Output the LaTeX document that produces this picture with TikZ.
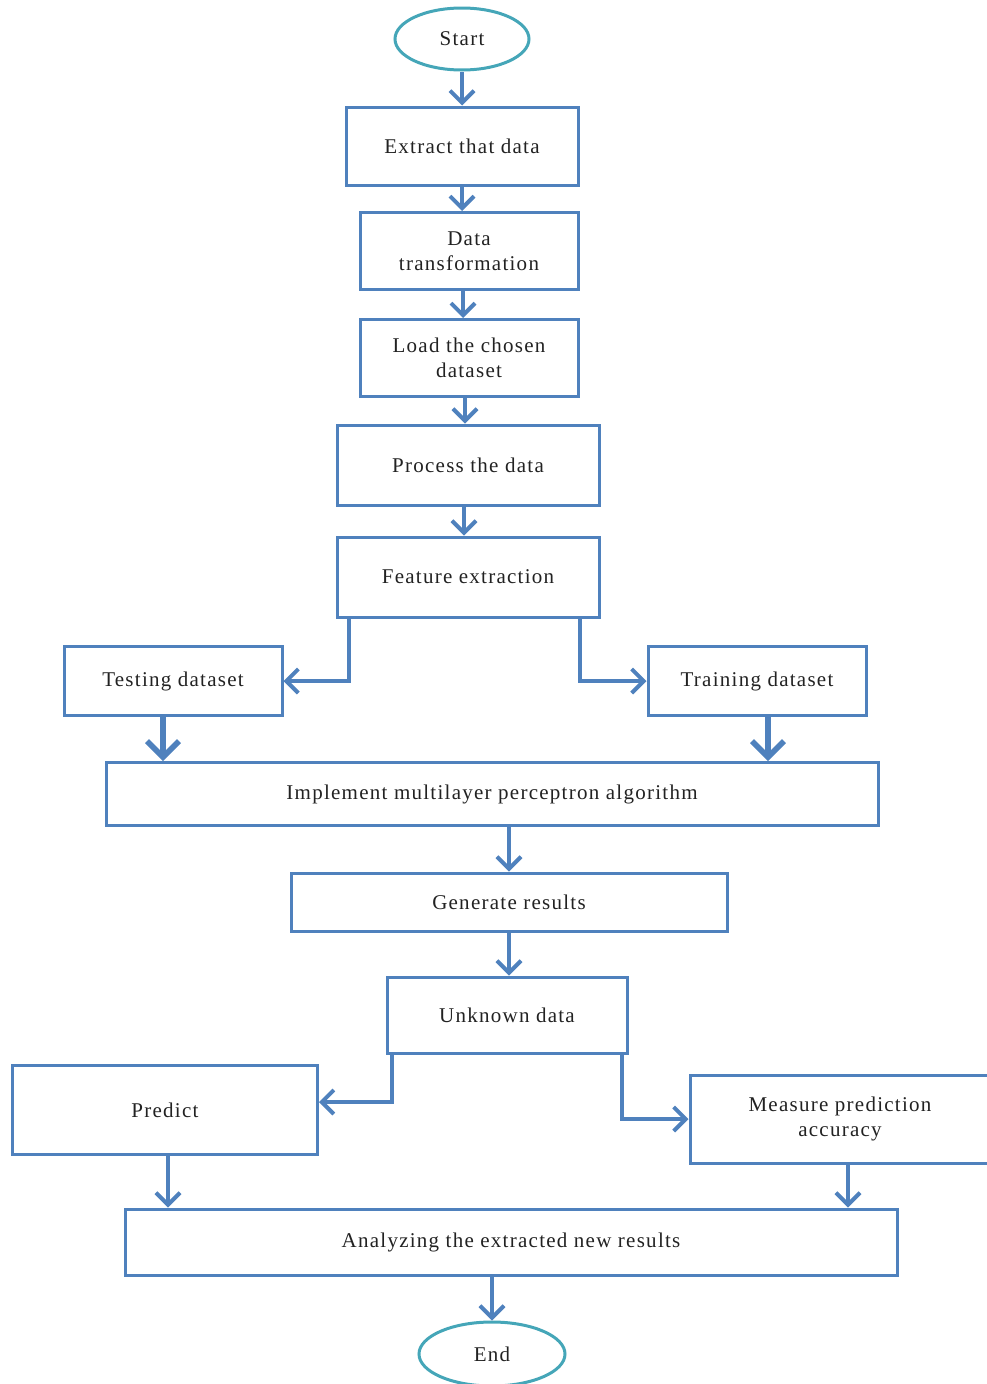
\documentclass[tikz,border=0pt]{standalone}
\usepackage{fontspec}
\setmainfont{Liberation Serif}[LetterSpace=6]
\usetikzlibrary{arrows.meta,shapes.geometric}
\definecolor{boxblue}{HTML}{4F81BD}
\definecolor{ovalteal}{HTML}{45A6B8}
\definecolor{txt}{HTML}{222222}
\tikzset{
  box/.style={draw=boxblue, line width=3pt, rectangle, align=center, text=txt,
    font=\fontsize{21}{25}\selectfont, inner sep=2pt},
  oval/.style={draw=ovalteal, line width=3pt, ellipse, text=txt,
    font=\fontsize{21}{25}\selectfont, inner sep=0pt},
  arr/.style={draw=boxblue, line width=4pt,
    -{Straight Barb[length=12pt,width=24pt,line width=4pt]}},
  bigarr/.style={draw=boxblue, line width=5.5pt,
    -{Straight Barb[length=16pt,width=32pt,line width=5.5pt]}},
  link/.style={draw=boxblue, line width=4pt,
    -{Straight Barb[length=12pt,width=24pt,line width=4pt]}}
}
\begin{document}
\begin{tikzpicture}[x=1pt,y=-1pt]
\useasboundingbox (0,0) rectangle (987,1384);
\clip (0,0) rectangle (987,1384);

% terminals
\node[oval, minimum width=134pt, minimum height=62pt] (start) at (462,39) {Start};
\node[oval, minimum width=146pt, minimum height=64pt] (finish) at (492,1354) {End};

% main column
\node[box, minimum width=232pt, minimum height=78pt] (extract) at (462,146) {Extract that data};
\node[box, minimum width=218pt, minimum height=77pt] (transf) at (469,251) {Data\\transformation};
\node[box, minimum width=218pt, minimum height=77pt] (load) at (469,358) {Load the chosen\\dataset};
\node[box, minimum width=262pt, minimum height=80pt] (process) at (468,465) {Process the data};
\node[box, minimum width=262pt, minimum height=80pt] (feature) at (468,577) {Feature extraction};

% split into datasets
\node[box, minimum width=218pt, minimum height=69pt] (testing) at (173,681) {Testing dataset};
\node[box, minimum width=218pt, minimum height=69pt] (training) at (757,681) {Training dataset};

\node[box, minimum width=772pt, minimum height=63pt] (mlp) at (492,794) {Implement multilayer perceptron algorithm};
\node[box, minimum width=436pt, minimum height=58pt] (generate) at (509,902) {Generate results};
\node[box, minimum width=240pt, minimum height=76pt] (unknown) at (507,1015) {Unknown data};

% outcomes
\node[box, minimum width=305pt, minimum height=89pt] (predict) at (165,1110) {Predict};
\node[box, minimum width=300pt, minimum height=88pt] (measure) at (840,1119) {Measure prediction\\accuracy};
\node[box, minimum width=772pt, minimum height=66pt] (analyze) at (511,1242) {Analyzing the extracted new results};

% connectors
\draw[arr] (start.south) -- (extract.north);
\draw[arr] (extract.south) -- (extract.south |- transf.north);
\draw[arr] ([xshift=-6pt]transf.south) -- ([xshift=-6pt]transf.south |- load.north);
\draw[arr] ([xshift=-4pt]load.south) -- ([xshift=-4pt]load.south |- process.north);
\draw[arr] ([xshift=-4pt]process.south) -- ([xshift=-4pt]process.south |- feature.north);

\draw[link] ([xshift=13pt]feature.south west) |- (testing.east);
\draw[link] ([xshift=-21pt]feature.south east) |- (training.west);

\draw[bigarr] ([xshift=-10pt]testing.south) -- ([xshift=-10pt]testing.south |- mlp.north);
\draw[bigarr] ([xshift=11pt]training.south) -- ([xshift=11pt]training.south |- mlp.north);

\draw[arr] (generate.north |- mlp.south) -- (generate.north);
\draw[arr] (generate.south) -- (generate.south |- unknown.north);

\draw[link] ([xshift=6pt]unknown.south west) |- ([yshift=8pt]predict.east);
\draw[link] ([xshift=-7pt]unknown.south east) |- (measure.west);

\draw[arr] ([xshift=3pt]predict.south) -- ([xshift=3pt]predict.south |- analyze.north);
\draw[arr] ([xshift=8pt]measure.south) -- ([xshift=8pt]measure.south |- analyze.north);
\draw[arr] (finish.north |- analyze.south) -- (finish.north);
\end{tikzpicture}
\end{document}
